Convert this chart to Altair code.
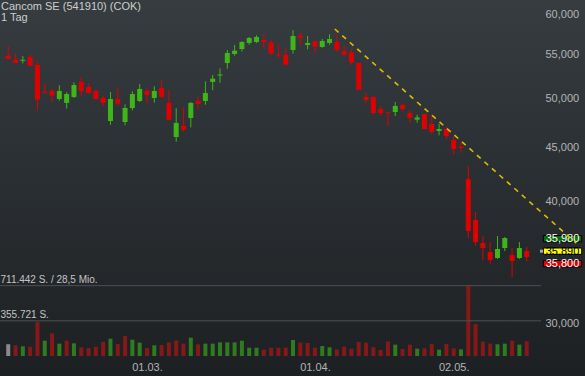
import altair as alt
import pandas as pd
import numpy as np

FONT = "Liberation Sans"

title_main = "Cancom SE (541910) (COK)"
title_sub = "1 Tag"

holidays = ["2022-04-15", "2022-04-18"]
trading_days = [d.strftime("%Y-%m-%d") for d in pd.bdate_range("2022-02-02", "2022-05-16")
                if d.strftime("%Y-%m-%d") not in holidays]

open_ = [54.92, 54.44, 54.31, 54.76, 53.82, 50.78, 50.86, 49.98, 49.55, 50.20,
         51.86, 51.30, 50.86, 50.09, 47.64, 49.95, 47.54, 49.01, 49.76, 50.86,
         50.09, 51.19, 49.55, 46.01, 47.16, 47.95, 49.76, 49.76, 51.86, 52.60,
         54.05, 55.12, 55.72, 56.46, 56.58, 56.82, 56.52, 55.06, 55.00, 55.60,
         57.36, 56.21, 56.66, 55.97, 56.46, 56.58, 55.48, 55.32, 54.05, 50.20,
         50.20, 48.90, 48.56, 48.58, 49.33, 48.48, 47.78, 48.37, 47.33, 46.62,
         46.82, 45.71, 45.05, 41.99, 38.41, 36.53, 35.83, 35.36, 36.14, 35.59,
         35.36, 35.90]
high = [56.09, 55.20, 54.88, 55.12, 54.20, 51.64, 51.08, 51.49, 50.71, 51.83,
        52.40, 51.72, 50.97, 50.31, 50.75, 51.16, 49.40, 50.82, 51.64, 51.19,
        51.38, 52.05, 50.93, 48.98, 49.08, 49.65, 50.27, 51.94, 52.66, 53.43,
        55.60, 56.21, 56.66, 57.20, 57.41, 57.57, 56.79, 56.33, 55.81, 58.07,
        57.78, 57.32, 56.70, 56.95, 57.53, 57.38, 56.12, 55.76, 54.09, 50.69,
        50.23, 49.22, 48.58, 49.65, 49.51, 48.80, 48.30, 48.39, 48.30, 47.36,
        47.06, 46.11, 45.45, 43.20, 39.09, 37.09, 36.61, 37.09, 37.01, 36.14,
        36.61, 36.22]
low = [54.46, 54.02, 54.02, 53.70, 48.76, 50.52, 49.62, 49.79, 48.94, 50.09,
       50.23, 50.58, 49.92, 49.19, 47.26, 49.30, 47.20, 48.76, 49.65, 49.47,
       49.58, 50.09, 47.75, 45.54, 46.55, 46.99, 48.87, 49.36, 50.93, 51.78,
       53.38, 54.92, 55.40, 56.25, 56.46, 55.76, 55.04, 54.61, 53.82, 55.16,
       56.17, 55.69, 55.20, 55.88, 56.25, 55.40, 54.80, 53.82, 50.93, 49.51,
       48.30, 48.13, 47.13, 48.16, 48.69, 47.47, 47.47, 46.79, 46.28, 46.18,
       45.81, 44.31, 44.50, 36.91, 36.32, 35.19, 34.93, 35.29, 35.90, 33.91,
       35.29, 35.11]
close = [54.52, 54.05, 54.43, 53.73, 49.90, 50.67, 50.34, 50.86, 50.52, 51.52,
         50.86, 50.63, 49.98, 49.55, 49.98, 49.47, 49.01, 50.52, 51.08, 50.41,
         50.86, 50.20, 47.78, 47.44, 46.75, 49.55, 49.44, 50.63, 52.24, 52.72,
         55.24, 55.52, 56.58, 57.07, 57.20, 56.58, 55.16, 54.94, 53.85, 57.32,
         57.11, 56.46, 56.00, 56.70, 56.95, 55.62, 55.04, 54.09, 51.00, 49.87,
         48.48, 48.47, 48.46, 49.22, 48.90, 47.99, 48.01, 46.82, 46.52, 46.82,
         46.11, 44.83, 44.92, 37.50, 36.61, 36.14, 35.21, 36.06, 36.93, 35.13,
         36.14, 35.44]
volume = [118000, 108000, 98000, 94000, 344000, 155000, 229000, 125000, 155000, 128000,
          88000, 81000, 94000, 142000, 175000, 121000, 202000, 165000, 135000, 81000,
          108000, 111000, 138000, 158000, 125000, 185000, 118000, 125000, 125000, 138000,
          138000, 138000, 155000, 84000, 84000, 64000, 84000, 84000, 84000, 162000,
          135000, 132000, 84000, 101000, 88000, 67000, 94000, 74000, 142000, 135000,
          88000, 61000, 148000, 115000, 71000, 115000, 74000, 78000, 121000, 64000,
          121000, 78000, 67000, 711442, 324000, 145000, 125000, 118000, 125000, 155000,
          115000, 148000]

x_tick_dates = ["2022-03-01", "2022-04-01", "2022-05-02"]
price_ticks = [30, 40, 45, 50, 55, 60]
vol_ref_values = [711442, 355721]
vol_ref_labels = ["711.442 S. / 28,5 Mio.", "355.721 S."]
trend_idx = [44.72, 77.78]
trend_price = [58.20, 36.52]
quote_values = [35.98, 35.89, 35.80]
quote_labels = ["35,980", "35,890", "35,800"]
quote_fills = ["#0a6b0a", "#ffff00", "#e00000"]
quote_text_colors = ["#ffffff", "#000000", "#ffffff"]

# ---------------------------------------------------------------- data frame
df = pd.DataFrame({"date": trading_days, "open": open_, "high": high,
                   "low": low, "close": close, "volume": volume})
df["idx"] = np.arange(len(df))
prev = df["close"].shift(1)
df["vol_color"] = np.where(prev.isna(), "#8a8a8a",
                           np.where(df["close"] > prev, "#2f7b1f", "#861818"))
df["candle_color"] = np.where(df["close"] >= df["open"], "#3fb618", "#e00000")

tick_idx = [trading_days.index(d) for d in x_tick_dates]
tick_txt = [pd.Timestamp(d).strftime("%d.%m.") for d in x_tick_dates]
label_expr = " : ".join(f"datum.value == {i} ? '{t}'" for i, t in zip(tick_idx, tick_txt)) + " : ''"

W, H = 540, 356
LBL = "#b4b4b4"

x_scale = alt.Scale(domain=[-0.4435, 72.137], nice=False, zero=False)
x_axis = alt.Axis(values=tick_idx, labelExpr=label_expr, title=None, domain=False,
                  ticks=False, grid=False, labelColor=LBL, labelFont=FONT,
                  labelFontSize=11, labelPadding=5, labelFlush=False, labelOverlap=False,
                  zindex=2)
X = alt.X("idx:Q", scale=x_scale, axis=x_axis)

price_scale = alt.Scale(type="log", domain=[28.57, 61.99], nice=False, zero=False)
price_axis = alt.Axis(orient="right", values=price_ticks,
                      labelExpr="replace(format(datum.value, '.3f'), '.', ',')",
                      title=None, domain=False, ticks=False, grid=False,
                      labelColor=LBL, labelFont=FONT, labelFontSize=11, labelPadding=5,
                      labelOverlap=False, labelFlush=False, zindex=2,
                      labelOffset={"condition": {"test": "datum.value == 30", "value": -10}, "value": 0})

vol_scale = alt.Scale(domain=[0, 3600000], nice=False, zero=True)

# ---------------------------------------------------------------- background
bg = alt.Chart(alt.Data(values=[{"a": 1}])).mark_rect(
    fill=alt.LinearGradient(gradient="linear", x1=0, x2=0, y1=0, y2=1,
                            stops=[alt.GradientStop(color="#363c40", offset=0),
                                   alt.GradientStop(color="#1d2023", offset=1)])
).encode(x=alt.value(0), x2=alt.value(585), y=alt.value(0), y2=alt.value(376))

# ---------------------------------------------------------------- volume pane
vol_bars = alt.Chart(df).mark_bar(size=4).encode(
    x=X, y=alt.Y("volume:Q", scale=vol_scale, axis=None),
    color=alt.Color("vol_color:N", scale=None))

ref_df = pd.DataFrame({"v": vol_ref_values, "label": vol_ref_labels})
vol_rules = alt.Chart(ref_df).mark_rule(color="#4b5055", strokeWidth=1).encode(
    y=alt.Y("v:Q", scale=vol_scale, axis=None), x=alt.value(0), x2=alt.value(541))
vol_text = alt.Chart(ref_df).mark_text(align="left", baseline="alphabetic", dy=-2.5, dx=0.5,
                                       font=FONT, fontSize=10, color="#c4c4c4").encode(
    y=alt.Y("v:Q", scale=vol_scale, axis=None), x=alt.value(0), text="label:N")

vol_layer = alt.layer(vol_bars, vol_rules, vol_text)

# ---------------------------------------------------------------- price pane
wicks = alt.Chart(df).mark_rule(strokeWidth=1).encode(
    x=X, y=alt.Y("low:Q", scale=price_scale, axis=price_axis), y2="high:Q",
    color=alt.Color("candle_color:N", scale=None))
bodies = alt.Chart(df).mark_bar(size=5).encode(
    x=X, y=alt.Y("open:Q", scale=price_scale, axis=price_axis), y2="close:Q",
    color=alt.Color("candle_color:N", scale=None))

layers = [wicks, bodies]

last_df = pd.DataFrame({"price": [quote_values[1]]})
for k, (lab, fill, tcol) in enumerate(zip(quote_labels, quote_fills, quote_text_colors)):
    off = (k - 1) * 12.5
    box = alt.Chart(last_df).mark_point(
        shape="M-1,-0.165L1,-0.165L1,0.165L-1,0.165Z", size=1475, fill=fill,
        stroke="#000000", strokeWidth=1, fillOpacity=1, strokeOpacity=1, opacity=1,
        yOffset=off).encode(
        x=alt.value(562.5), y=alt.Y("price:Q", scale=price_scale, axis=price_axis))
    txt = alt.Chart(last_df).mark_text(font=FONT, fontSize=11, color=tcol, align="center",
                                       baseline="middle", dy=off + 0.5).encode(
        x=alt.value(562.5), y=alt.Y("price:Q", scale=price_scale, axis=price_axis),
        text=alt.value(lab))
    layers += [box, txt]

pointer = alt.Chart(last_df).mark_square(size=9, color="#a8a8a8", opacity=1).encode(
    x=alt.value(541.5), y=alt.Y("price:Q", scale=price_scale, axis=price_axis))
layers.append(pointer)

trend_df = pd.DataFrame({"idx": trend_idx, "price": trend_price})
trend = alt.Chart(trend_df).mark_line(color="#e2bb00", strokeWidth=1.6,
                                      strokeDash=[5, 5]).encode(
    x=X, y=alt.Y("price:Q", scale=price_scale, axis=price_axis))
layers.append(trend)

price_layer = alt.layer(*layers)

# ---------------------------------------------------------------- title text
t1 = alt.Chart(alt.Data(values=[{"t": title_main}])).mark_text(
    align="left", baseline="alphabetic", font=FONT, fontSize=11, color="#cdcdcd").encode(
    x=alt.value(1), y=alt.value(10), text="t:N")
t2 = alt.Chart(alt.Data(values=[{"t": title_sub}])).mark_text(
    align="left", baseline="alphabetic", font=FONT, fontSize=11, color="#cdcdcd").encode(
    x=alt.value(1), y=alt.value(20.5), text="t:N")

chart = alt.layer(bg, vol_layer, price_layer, t1, t2).resolve_scale(
    y="independent"
).properties(
    width=W, height=H,
    padding={"left": 0, "top": 0, "right": 45, "bottom": 20},
    autosize=alt.AutoSizeParams(type="none"),
    background="#2a2e32",
).configure_view(strokeWidth=0)

chart.save("out.html", embed_options={"renderer": "svg", "actions": False})
